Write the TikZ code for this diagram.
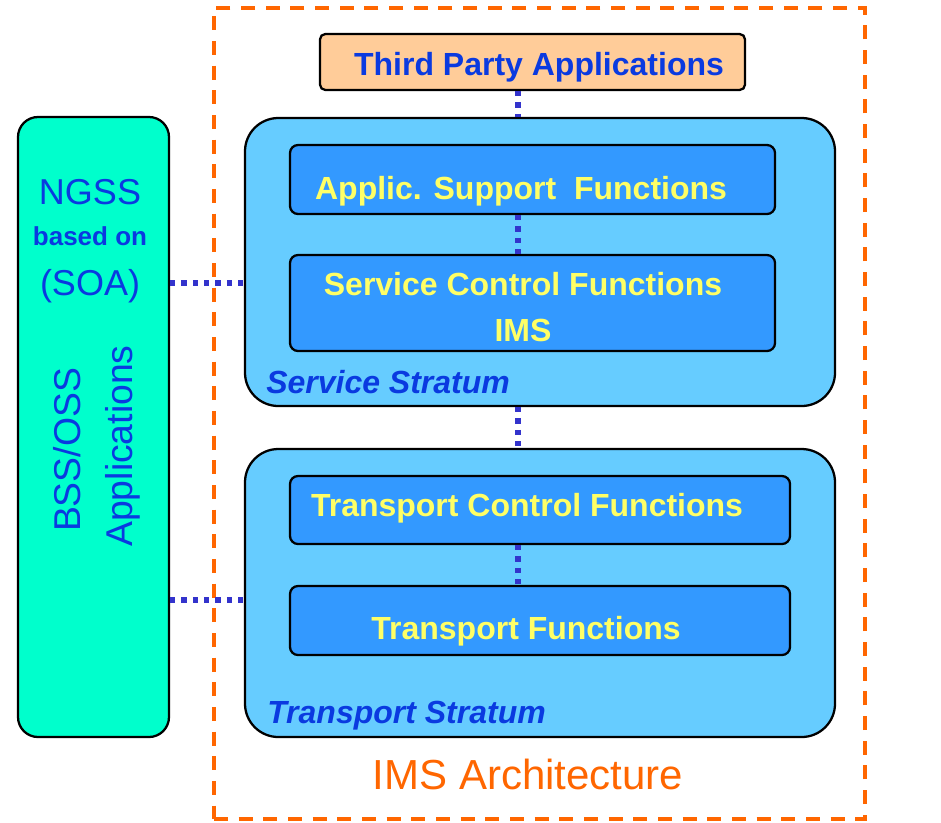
\documentclass[tikz,border=0pt]{standalone}
\usepackage{fontspec}
\setmainfont{Liberation Sans}
\usetikzlibrary{fit}
\definecolor{ossgreen}{HTML}{00FFCC}
\definecolor{stratumblue}{HTML}{66CCFF}
\definecolor{funcblue}{HTML}{3399FF}
\definecolor{labelyellow}{HTML}{FFFF66}
\definecolor{labelblue}{HTML}{0A3AE0}
\definecolor{linkblue}{HTML}{3333CC}
\definecolor{imsorange}{HTML}{FF6600}
\definecolor{peach}{HTML}{FFCC99}
\begin{document}
\begin{tikzpicture}[x=0.75pt,y=-0.75pt,
  frame/.style={draw=black, line width=1.7pt, inner sep=0pt},
  stratum/.style={frame, fill=stratumblue, rounded corners=25pt},
  funcbox/.style={frame, fill=funcblue, rounded corners=6pt},
  funclabel/.style={anchor=base, text=labelyellow, font=\fontsize{24}{28}\selectfont\bfseries, inner sep=0pt},
  stratlabel/.style={anchor=base west, text=labelblue, font=\fontsize{24}{28}\selectfont\bfseries\itshape, inner sep=0pt},
  osslabel/.style={anchor=base, text=labelblue, inner sep=0pt},
  link/.style={draw=linkblue, line width=3.8pt, dash pattern=on 4pt off 4.5pt},
]
\useasboundingbox (0,0) rectangle (941,822);

% IMS architecture boundary
\node[draw=imsorange, line width=2.6pt, dash pattern=on 10.5pt off 8pt, inner sep=0pt,
      fit={(214,8) (865,819)}] (ims) {};
\node[anchor=base, text=imsorange, font=\fontsize{31.5}{36}\selectfont, inner sep=0pt] (imslabel) at (528,789) {IMS Architecture};

% BSS/OSS column
\node[frame, fill=ossgreen, rounded corners=15pt, fit={(18,117) (169,737)}] (oss) {};
\node[osslabel, font=\fontsize{27}{32}\selectfont] (ngss) at (90,204) {NGSS};
\node[osslabel, font=\fontsize{19.5}{24}\selectfont\bfseries] (basedon) at (90,245) {based on};
\node[osslabel, font=\fontsize{27}{32}\selectfont] (soa) at (90,295) {(SOA)};
\node[osslabel, font=\fontsize{28}{32}\selectfont, rotate=90] (bssoss) at (80,450) {BSS/OSS};
\node[osslabel, font=\fontsize{28}{32}\selectfont, rotate=90] (ossapps) at (132,446) {Applications};

% Third party applications
\node[frame, fill=peach, rounded corners=4pt, fit={(320,34) (745,90)}] (tpa) {};
\node[anchor=base, text=labelblue, font=\fontsize{24}{28}\selectfont\bfseries, inner sep=0pt] (tpalabel) at (539,75) {Third Party Applications};

% Service stratum
\node[stratum, fit={(245,118) (835,406)}] (svc) {};
\node[funcbox, fit={(290,145) (775,214)}] (asf) {};
\node[funclabel] (asflabel) at (521,199) {Applic. Support~~Functions};
\node[funcbox, fit={(290,255) (775,351)}] (scf) {};
\node[funclabel] (scflabel) at (523,295) {Service Control Functions};
\node[funclabel] (scfims) at (523,341) {IMS};
\node[stratlabel] (svclabel) at (266,393) {Service Stratum};

% Transport stratum
\node[stratum, fit={(245,449) (835,737)}] (trn) {};
\node[funcbox, fit={(290,476) (790,544)}] (tcf) {};
\node[funclabel] (tcflabel) at (527,516) {Transport Control Functions};
\node[funcbox, fit={(290,586) (790,655)}] (tf) {};
\node[funclabel] (tflabel) at (526,639) {Transport Functions};
\node[stratlabel] (trnlabel) at (267,723) {Transport Stratum};

% Links
\coordinate (spine) at (518,0);
\coordinate (svcbus) at (0,283);
\coordinate (trnbus) at (0,600);
\draw[link] (tpa.south -| spine) -- (svc.north -| spine);
\draw[link] (asf.south -| spine) -- (scf.north -| spine);
\draw[link] (svc.south -| spine) -- (trn.north -| spine);
\draw[link] (tcf.south -| spine) -- (tf.north -| spine);
\draw[link] (oss.east |- svcbus) -- (svc.west |- svcbus);
\draw[link] (oss.east |- trnbus) -- (trn.west |- trnbus);
\end{tikzpicture}
\end{document}
